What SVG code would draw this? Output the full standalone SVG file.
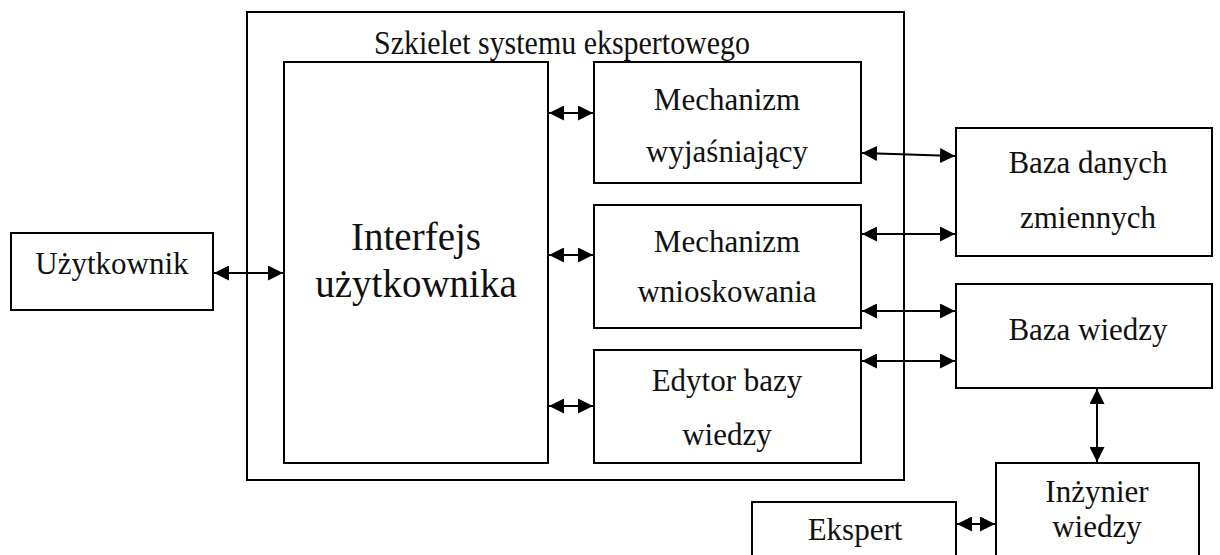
<svg xmlns="http://www.w3.org/2000/svg" width="1220" height="555" viewBox="0 0 1220 555">
  <style>
    .box { fill: #ffffff; stroke: #000000; stroke-width: 2; }
    .frame { fill: none; stroke: #000000; stroke-width: 2; }
    .lbl { font-family: "Liberation Serif", "Times New Roman", serif; font-size: 31px; fill: #111111; text-anchor: middle; }
    .big { font-size: 39px; }
    .title { font-size: 33px; }
    .link { fill: none; stroke: #000000; stroke-width: 2; marker-start: url(#head); marker-end: url(#head); }
  </style>
  <defs>
    <marker id="head" viewBox="0 0 15 15" refX="15" refY="7.5" markerWidth="15" markerHeight="15" markerUnits="userSpaceOnUse" orient="auto-start-reverse">
      <path d="M0,0 L15,7.5 L0,15 Z" fill="#000000"/>
    </marker>
  </defs>
  <rect width="1220" height="555" fill="#ffffff"/>

  <!-- expert system shell frame -->
  <g id="szkielet">
    <rect class="frame" x="247" y="12" width="657" height="468"/>
    <text class="lbl title" x="562" y="54" textLength="376" lengthAdjust="spacingAndGlyphs">Szkielet systemu ekspertowego</text>
  </g>

  <g id="uzytkownik">
    <rect class="box" x="11" y="233" width="202" height="77"/>
    <text class="lbl" x="112" y="274">Użytkownik</text>
  </g>

  <g id="interfejs">
    <rect class="box" x="284" y="62" width="264" height="401"/>
    <text class="lbl big" x="416" y="250">Interfejs</text>
    <text class="lbl big" x="416" y="297">użytkownika</text>
  </g>

  <g id="mech-wyjasniajacy">
    <rect class="box" x="594" y="62" width="267" height="121"/>
    <text class="lbl" x="727" y="110">Mechanizm</text>
    <text class="lbl" x="727" y="162">wyjaśniający</text>
  </g>

  <g id="mech-wnioskowania">
    <rect class="box" x="594" y="205" width="267" height="123"/>
    <text class="lbl" x="727" y="252">Mechanizm</text>
    <text class="lbl" x="727" y="302">wnioskowania</text>
  </g>

  <g id="edytor">
    <rect class="box" x="594" y="350" width="267" height="113"/>
    <text class="lbl" x="727" y="391">Edytor bazy</text>
    <text class="lbl" x="727" y="445">wiedzy</text>
  </g>

  <g id="baza-danych">
    <rect class="box" x="956" y="128" width="256" height="128"/>
    <text class="lbl" x="1088" y="173">Baza danych</text>
    <text class="lbl" x="1088" y="228">zmiennych</text>
  </g>

  <g id="baza-wiedzy">
    <rect class="box" x="956" y="284" width="256" height="104"/>
    <text class="lbl" x="1088" y="340">Baza wiedzy</text>
  </g>

  <g id="inzynier">
    <rect class="box" x="996" y="463" width="203" height="100"/>
    <text class="lbl" x="1097" y="502">Inżynier</text>
    <text class="lbl" x="1097" y="537">wiedzy</text>
  </g>

  <g id="ekspert">
    <rect class="box" x="752" y="502" width="204" height="60"/>
    <text class="lbl" x="855" y="540">Ekspert</text>
  </g>

  <!-- two-way connectors -->
  <g id="connectors">
    <line class="link" x1="214" y1="273" x2="283" y2="273"/>
    <line class="link" x1="549" y1="113" x2="593" y2="113"/>
    <line class="link" x1="549" y1="255" x2="593" y2="255"/>
    <line class="link" x1="549" y1="406" x2="593" y2="406"/>
    <line class="link" x1="862" y1="153" x2="955" y2="156"/>
    <line class="link" x1="862" y1="234" x2="955" y2="234"/>
    <line class="link" x1="862" y1="311" x2="955" y2="311"/>
    <line class="link" x1="862" y1="361" x2="955" y2="361"/>
    <line class="link" x1="1097" y1="389" x2="1097" y2="462"/>
    <line class="link" x1="957" y1="524" x2="995" y2="524"/>
  </g>
</svg>
